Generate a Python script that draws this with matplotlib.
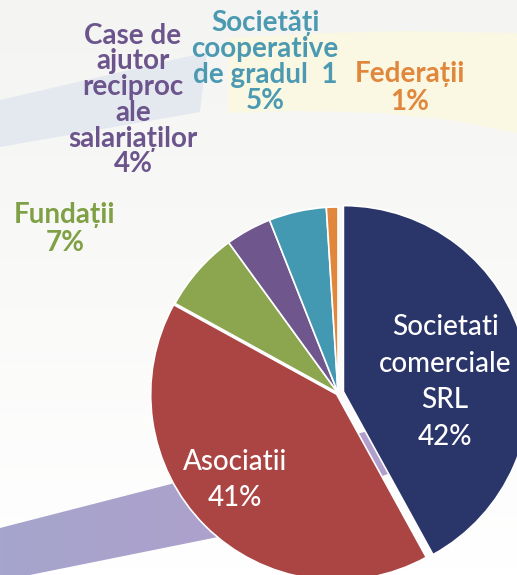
import numpy as np
import matplotlib.pyplot as plt
from matplotlib.patches import Polygon

W, H = 517, 575

labels = ['Societati\ncomerciale\nSRL', 'Asociatii', 'Fundații',
          'Case de\najutor\nreciproc\nale\nsalariaților', 'Societăți\ncooperative\nde gradul  1',
          'Federații']
shares = [42, 41, 7, 4, 5, 1]
colors = ['#2A356A', '#AA4544', '#8BA64F', '#6F568D', '#4399B2', '#E0873C']
text_colors = ['white', 'white', '#7FA044', '#6C548C', '#4B9AB1', '#E0873C']

# label block centres in pixels (from top-left), line spacing
label_pos = [(445, 382, 1.5), (235, 480, 1.5), (65, 229, 1.1),
             (133, 100, 0.99), (265, 62, 1.0), (410, 88, 1.06)]

fam = ['Lato', 'Open Sans', 'DejaVu Sans']

fig = plt.figure(figsize=(W / 100, H / 100), dpi=100)

# background
bg = fig.add_axes([0, 0, 1, 1])
bg.set_xlim(0, W)
bg.set_ylim(H, 0)
bg.axis('off')
grad = np.linspace(0, 1, 100).reshape(-1, 1)
c0 = np.array([244, 244, 242]) / 255
c1 = np.array([255, 255, 255]) / 255
img = c0 + (c1 - c0) * grad[..., None]
bg.imshow(img, extent=[0, W, H, 0], aspect='auto', zorder=0)

bg.add_patch(Polygon([(0, 100), (207, 52), (200, 112), (0, 147)],
                     closed=True, fc='#E4E9F0', ec='none', zorder=1))
bg.add_patch(Polygon([(228, 38), (300, 34), (400, 31), (517, 33), (517, 133),
                      (450, 120), (380, 113), (300, 111), (228, 113)],
                     closed=True, fc='#FAF7E3', ec='none', zorder=1))
band = Polygon([(0, 528), (175, 483), (420, 417), (420, 462), (218, 537), (0, 581)],
               closed=True, fc='none', ec='none')
bg.add_patch(band)
hgrad = np.linspace(0, 1, 100).reshape(1, -1)
p0 = np.array([166, 165, 205]) / 255
p1 = np.array([180, 158, 204]) / 255
pimg = p0 + (p1 - p0) * hgrad[..., None]
im = bg.imshow(pimg, extent=[0, 420, 581, 400], aspect='auto', zorder=2)
im.set_clip_path(band)
bg.set_xlim(0, W)
bg.set_ylim(H, 0)

# pie
cx, cy, r = 338, 393, 186
half = 1.1 * r
pax = fig.add_axes([(cx - half) / W, (H - cy - half) / H, 2 * half / W, 2 * half / H])
pax.pie(shares, colors=colors, startangle=90, counterclock=False,
        explode=[0.03, 0.01, 0, 0, 0, 0],
        wedgeprops=dict(edgecolor='white', linewidth=1.2))
pax.set_xlim(-1.1, 1.1)
pax.set_ylim(-1.1, 1.1)
pax.axis('off')

# labels
top = fig.add_axes([0, 0, 1, 1])
top.set_xlim(0, W)
top.set_ylim(H, 0)
top.axis('off')
top.patch.set_alpha(0)
for i, (lab, v) in enumerate(zip(labels, shares)):
    x, y, ls = label_pos[i]
    inside = i < 2
    top.text(x, y, f'{lab}\n{v}%', ha='center', va='center', ma='center',
             color=text_colors[i], fontsize=20, family=fam,
             fontweight='medium' if inside else 'bold', linespacing=ls)

fig.savefig('out.png', dpi=100)
